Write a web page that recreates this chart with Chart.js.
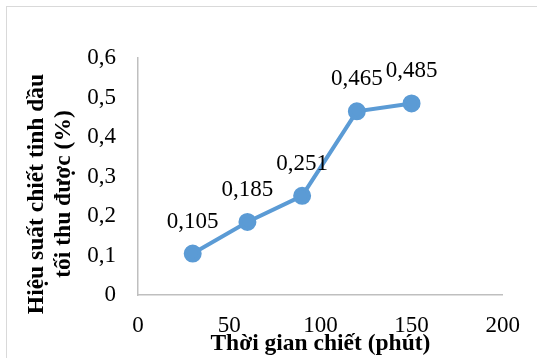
<!DOCTYPE html>
<html>
<head>
<meta charset="utf-8">
<script src="https://cdn.jsdelivr.net/npm/chart.js@4.4.1/dist/chart.umd.min.js"></script>
<style>
    html, body { margin: 0; padding: 0; background: #fff; overflow: hidden; }
    #frame {
        position: absolute; left: 6px; top: 6px; width: 600px; height: 400px;
        border-left: 1.5px solid #d9d9d9; border-top: 1.5px solid #d9d9d9;
    }
    #wrap { position: absolute; left: 0; top: 0; width: 537px; height: 358px; }
</style>
</head>
<body>
<div id="frame"></div>
<div id="wrap"><canvas id="yieldChart" width="537" height="358"></canvas></div>
<script>
const times = [30, 60, 90, 120, 150];
const yields = [0.105, 0.185, 0.251, 0.465, 0.485];
const yTitle = ['Hiệu suất chiết tinh dầu', 'tối thu được (%)'];
const xTitle = 'Thời gian chiết (phút)';

const serif = "'Liberation Serif', 'Times New Roman', serif";
const fmt = v => String(v).replace('.', ',');

// value labels above each point
const pointLabels = {
    id: 'pointLabels',
    afterDatasetsDraw(chart) {
        const ctx = chart.ctx;
        const meta = chart.getDatasetMeta(0);
        ctx.save();
        ctx.font = '23px ' + serif;
        ctx.fillStyle = '#000';
        ctx.textAlign = 'center';
        ctx.textBaseline = 'middle';
        meta.data.forEach((pt, i) => {
            ctx.fillText(fmt(yields[i]), pt.x, pt.y - 32);
        });
        ctx.restore();
    }
};

// y title sits a bit lower than the axis middle in the original, so draw it here
const yTitlePlugin = {
    id: 'yTitlePlugin',
    afterDraw(chart) {
        const ctx = chart.ctx;
        ctx.save();
        ctx.font = 'bold 23.5px ' + serif;
        ctx.fillStyle = '#000';
        ctx.textAlign = 'center';
        ctx.textBaseline = 'middle';
        yTitle.forEach((line, i) => {
            ctx.save();
            ctx.translate(37 + i * 27, 194);
            ctx.rotate(-Math.PI / 2);
            ctx.fillText(line, 0, 0);
            ctx.restore();
        });
        ctx.restore();
    }
};

document.addEventListener('DOMContentLoaded', () => {
    const ctx = document.getElementById('yieldChart').getContext('2d');
    new Chart(ctx, {
        type: 'scatter',
        data: {
            datasets: [{
                data: times.map((t, i) => ({ x: t, y: yields[i] })),
                showLine: true,
                borderColor: '#5b9bd5',
                backgroundColor: '#5b9bd5',
                borderWidth: 4,
                pointRadius: 7,
                pointHoverRadius: 7
            }]
        },
        options: {
            responsive: false,
            animation: false,
            events: [],
            layout: { padding: { top: 58, right: 29, left: 0, bottom: 0 } },
            plugins: { legend: { display: false }, tooltip: { enabled: false } },
            scales: {
                x: {
                    type: 'linear', min: 0, max: 200,
                    afterFit: s => { s.height = 63; },
                    grid: { display: false, drawTicks: false },
                    border: { color: '#bfbfbf', width: 1.5 },
                    ticks: { stepSize: 50, padding: 17, color: '#000', font: { family: serif, size: 23 } },
                    title: { display: true, text: xTitle, color: '#000', padding: 0,
                        font: { family: serif, size: 23.5, weight: 'bold', lineHeight: 1.2 } }
                },
                y: {
                    min: 0, max: 0.6,
                    afterFit: s => { s.width = 138; },
                    grid: { display: false, drawTicks: false },
                    border: { color: '#bfbfbf', width: 1.5 },
                    ticks: { stepSize: 0.1, padding: 22, color: '#000', font: { family: serif, size: 23 },
                        callback: v => fmt(Math.round(v * 10) / 10) },
                    title: { display: false }
                }
            }
        },
        plugins: [pointLabels, yTitlePlugin]
    });
});
</script>
</body>
</html>
